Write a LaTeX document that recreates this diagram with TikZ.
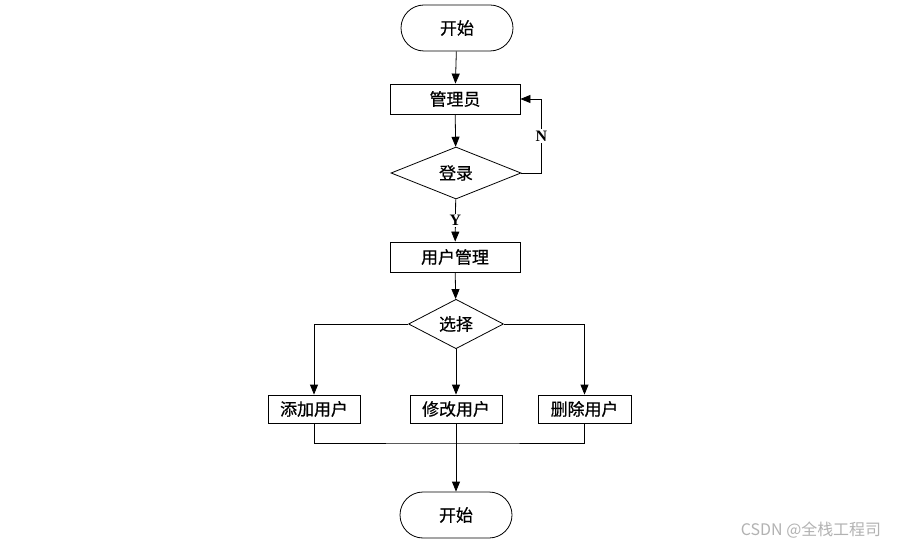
\documentclass[tikz,border=0pt]{standalone}
\usepackage{fontspec}
\setmainfont{Liberation Serif}
\newfontfamily\cjk[FakeBold=0.6]{Noto Sans CJK SC}
\newfontfamily\wmfont{Noto Sans CJK SC}
\usetikzlibrary{arrows.meta,shapes.geometric,calc}
\begin{document}
\begin{tikzpicture}[x=1bp,y=-1bp,
  every node/.style={font=\cjk\fontsize{17}{19}\selectfont},
  boxnode/.style={draw,line width=0.8bp,minimum width=130bp,minimum height=30bp,inner sep=0pt},
  smallbox/.style={draw,line width=0.8bp,minimum width=92bp,minimum height=28bp,inner sep=0pt},
  termnode/.style={draw,line width=0.8bp,minimum width=112bp,minimum height=46bp,rounded corners=23bp,inner sep=0pt},
  decnode/.style={draw,diamond,line width=0.8bp,inner sep=0pt},
  conn/.style={line width=0.8bp},
  arr/.style={conn,-{Triangle[length=10bp,width=8bp]}},
  lbl/.style={fill=white,inner sep=1.5pt,font=\bfseries\fontsize{16}{18}\selectfont}
]
\useasboundingbox[fill=white] (0,0) rectangle (897,547);
\node[termnode] (start) at (457,28) {开始};
\node[boxnode] (admin) at (455,99) {管理员};
\node[decnode,minimum width=130bp,minimum height=52bp] (login) at (456,173) {登录};
\node[boxnode] (user) at (455,257) {用户管理};
\node[decnode,minimum width=95bp,minimum height=38bp] (choose) at (456,324) {选择};
\node[smallbox] (add) at (314,409) {添加用户};
\node[smallbox] (modify) at (456,409) {修改用户};
\node[smallbox,minimum width=93bp] (del) at (584.5,409) {删除用户};
\node[termnode] (end) at (456,515) {开始};
\coordinate (join) at (456,443);
\node[text=black!30,font=\wmfont\fontsize{16}{18}\selectfont] (wm) at (811,530) {CSDN @全栈工程司};

\draw[arr] (start) -- (admin);
\draw[arr] (admin) -- (login);
\draw[arr] (login.east) -- ++(20,0) |- node[lbl,pos=0.25] {N} (admin.east);
\draw[arr] (login) -- node[lbl] {Y} (user);
\draw[arr] (user) -- (choose);
\draw[arr] (choose.west) -| (add.north);
\draw[arr] (choose.south) -- (modify.north);
\draw[arr] (choose.east) -| (del.north);
\draw[conn] (add.south) |- (join) -| (del.south);
\draw[conn] (modify.south) -- (join);
\draw[arr] (join) -- (end.north);
\end{tikzpicture}
\end{document}
